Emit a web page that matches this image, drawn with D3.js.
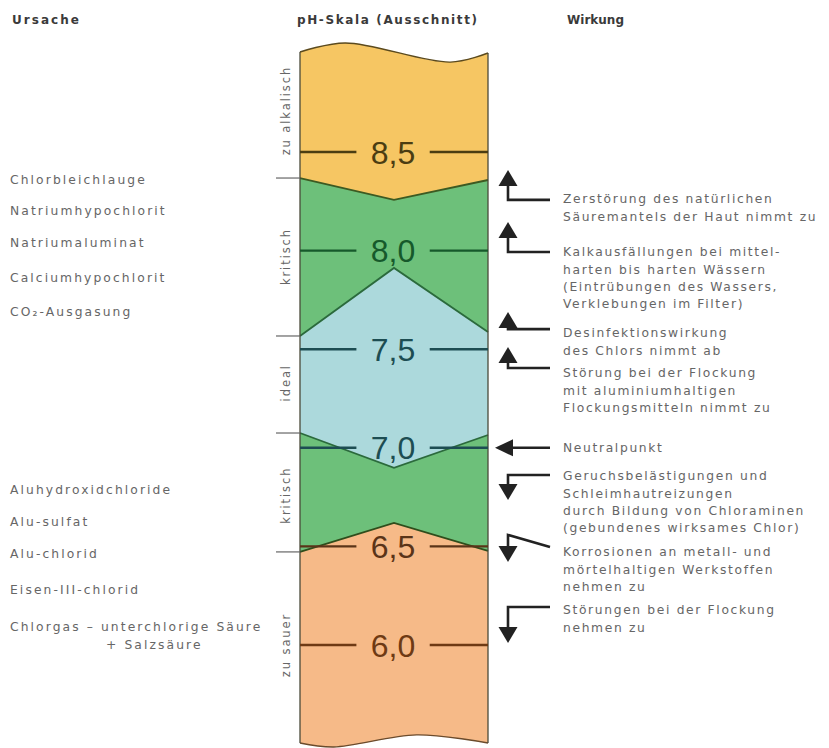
<!DOCTYPE html>
<html><head><meta charset="utf-8">
<script src="https://cdn.jsdelivr.net/npm/d3@7"></script>
<style>body{margin:0;background:#fff}</style>
</head><body>
<svg id="c" width="829" height="748"></svg>
<script>
// ---------- data ----------
const headers = ["Ursache", "pH-Skala (Ausschnitt)", "Wirkung"];
const phTicks = [8.5, 8.0, 7.5, 7.0, 6.5, 6.0];
const tickLabels = ["8,5", "8,0", "7,5", "7,0", "6,5", "6,0"];

const zoneNames = ["zu alkalisch", "kritisch", "ideal", "kritisch", "zu sauer"];
const zoneLabelPH = [8.71, 7.97, 7.33, 6.76, 6.0];

// boundaries as [fraction across column, pH]
const topEdge    = [[0, 9.007], [0.24, 9.053], [0.80, 8.956], [1, 9.002]];
const bound1     = [[0, 8.368], [0.5, 8.257], [1, 8.358]];
const bound2     = [[0, 7.567], [0.5, 7.912], [1, 7.587]];
const bound3     = [[0, 7.075], [0.5, 6.898], [1, 7.065]];
const bound4     = [[0, 6.472], [0.5, 6.619], [1, 6.477]];
const bottomEdge = [[0, 5.503], [0.18, 5.483], [0.62, 5.544], [1, 5.503]];

const causeLabels = ["Chlorbleichlauge", "Natriumhypochlorit", "Natriumaluminat", "Calciumhypochlorit", "CO₂-Ausgasung",
                     "Aluhydroxidchloride", "Alu-sulfat", "Alu-chlorid", "Eisen-III-chlorid", "Chlorgas  – unterchlorige Säure"];
const causePH = [8.36, 8.20, 8.04, 7.865, 7.69, 6.79, 6.625, 6.462, 6.279, 6.091];
const causeExtra = ["+ Salzsäure"];
const causeExtraPH = [6.0];

const effectDir   = ["up", "up", "up", "up", "left", "down", "down", "down"];
const effectTip   = [8.409, 8.145, 7.689, 7.511, 7.0, 6.735, 6.421, 6.010];
const effectElbow = [8.257, 7.993, 7.602, 7.405, 7.0, 6.862, 6.558, 6.193];
const effectEnd   = [8.257, 7.993, 7.602, 7.405, 7.0, 6.862, 6.497, 6.193];
const effectTextPH = [8.262, 7.993, 7.582, 7.379, 6.999, 6.857, 6.472, 6.178];
const effectLines = [
  ["Zerstörung des natürlichen", "Säuremantels der Haut nimmt zu"],
  ["Kalkausfällungen bei mittel-", "harten bis harten Wässern", "(Eintrübungen des Wassers,", "Verklebungen im Filter)"],
  ["Desinfektionswirkung", "des Chlors nimmt ab"],
  ["Störung bei der Flockung", "mit aluminiumhaltigen", "Flockungsmitteln nimmt zu"],
  ["Neutralpunkt"],
  ["Geruchsbelästigungen und", "Schleimhautreizungen", "durch Bildung von Chloraminen", "(gebundenes wirksames Chlor)"],
  ["Korrosionen an metall- und", "mörtelhaltigen Werkstoffen", "nehmen zu"],
  ["Störungen bei der Flockung", "nehmen zu"]
];

// ---------- styles ----------
const zoneFill = ["#f6c663", "#6dc07a", "#acd9dc", "#6dc07a", "#f6ba88"];
const boundStroke = ["#5b4a1e", "#3d5a22", "#2b6a3c", "#2b6a3c", "#2f4d1c", "#6b4b2c"];
const tickColor = ["#4b3d12", "#16592b", "#1d4d52", "#1d4d52", "#5a3418", "#6e3a14"];
const textGrey = "#666";
const FONT = "'DejaVu Sans', sans-serif";
const headerX = [12, 297, 567], headerLen = [67, 180, 57];

// ---------- scales ----------
const y = d3.scaleLinear().domain([6.0, 8.5]).range([645, 152]);
const x = d3.scaleLinear().domain([0, 1]).range([300, 488]);

const svg = d3.select("#c");

// headers
svg.selectAll("text.h").data(headers).join("text")
  .attr("x", (d, i) => headerX[i]).attr("y", 24)
  .attr("font-family", FONT).attr("font-weight", "bold").attr("font-size", 12)
  .attr("textLength", (d, i) => headerLen[i]).attr("lengthAdjust", "spacing")
  .attr("fill", "#3a3a3a").text(d => d);

// zones
const edges = [topEdge, bound1, bound2, bound3, bound4, bottomEdge];
const lineFor = (pts, i) => {
  const g = d3.line().x(d => x(d[0])).y(d => y(d[1]));
  if (i === 0 || i === 5) g.curve(d3.curveCatmullRom.alpha(0.5));
  return g(pts);
};
zoneFill.forEach((c, i) => {
  const up = lineFor(edges[i], i);
  const lo = lineFor(edges[i + 1].slice().reverse(), i + 1).replace(/^M/, "L");
  svg.append("path").attr("d", up + lo + "Z").attr("fill", c);
});
// boundaries
edges.forEach((e, i) => {
  svg.append("path").attr("d", lineFor(e, i)).attr("fill", "none")
    .attr("stroke", boundStroke[i]).attr("stroke-width", i === 0 || i === 5 ? 1.4 : 1.8);
});
// column sides
[0, 1].forEach(f => {
  svg.append("line").attr("x1", x(f)).attr("x2", x(f))
    .attr("y1", y(topEdge[f ? 3 : 0][1])).attr("y2", y(bottomEdge[f ? 3 : 0][1]))
    .attr("stroke", "#4a4a3a").attr("stroke-width", 1.3);
});
// little left marks at zone boundaries
[bound1, bound2, bound3, bound4].forEach(b => {
  svg.append("line").attr("x1", x(0) - 24).attr("x2", x(0))
    .attr("y1", y(b[0][1])).attr("y2", y(b[0][1]))
    .attr("stroke", "#666").attr("stroke-width", 1.2);
});

// pH ticks
phTicks.forEach((p, i) => {
  const g = svg.append("g");
  g.append("line").attr("x1", x(0)).attr("x2", x(0.3)).attr("y1", y(p)).attr("y2", y(p))
    .attr("stroke", tickColor[i]).attr("stroke-width", 2.4);
  g.append("line").attr("x1", x(0.69)).attr("x2", x(1)).attr("y1", y(p)).attr("y2", y(p))
    .attr("stroke", tickColor[i]).attr("stroke-width", 2.4);
  g.append("text").attr("x", x(0.495)).attr("y", y(p)).attr("dy", "0.36em")
    .attr("text-anchor", "middle").attr("font-family", "'Liberation Sans', Arial, sans-serif")
    .attr("font-size", 32).attr("fill", tickColor[i]).text(tickLabels[i]);
});

// zone side labels
zoneNames.forEach((n, i) => {
  svg.append("text").attr("transform", `translate(290,${y(zoneLabelPH[i])}) rotate(-90)`)
    .attr("text-anchor", "middle").attr("font-family", FONT).attr("font-size", 11.5)
    .attr("letter-spacing", 1.9).attr("fill", textGrey).text(n);
});

// causes
const causeText = (t, p, xx) => svg.append("text").attr("x", xx).attr("y", y(p)).attr("dy", "0.35em")
  .attr("font-family", FONT).attr("font-size", 12.3).attr("letter-spacing", 2.1)
  .attr("fill", textGrey).text(t);
causeLabels.forEach((t, i) => causeText(t, causePH[i], 10));
causeExtra.forEach((t, i) => causeText(t, causeExtraPH[i], 106));

// effects
const SX = 508, HX = 550;
effectDir.forEach((dir, i) => {
  const g = svg.append("g");
  const tY = y(effectTip[i]), eY = y(effectElbow[i]), nY = y(effectEnd[i]);
  if (dir === "left") {
    g.append("line").attr("x1", 510).attr("x2", HX).attr("y1", tY).attr("y2", tY)
      .attr("stroke", "#222").attr("stroke-width", 2.6);
    g.append("path").attr("d", `M495,${tY}L513,${tY - 8.5}L513,${tY + 8.5}Z`).attr("fill", "#222");
  } else {
    const s = dir === "up" ? 1 : -1;
    g.append("path").attr("d", `M${SX},${tY + s * 12}L${SX},${eY}L${HX},${nY}`)
      .attr("fill", "none").attr("stroke", "#222").attr("stroke-width", 2.6);
    g.append("path").attr("d", `M${SX},${tY}L${SX - 9.5},${tY + s * 16}L${SX + 9.5},${tY + s * 16}Z`).attr("fill", "#222");
  }
  effectLines[i].forEach((l, j) => {
    g.append("text").attr("x", 563).attr("y", y(effectTextPH[i]) + j * 17.3).attr("dy", "0.35em")
      .attr("font-family", FONT).attr("font-size", 12.3).attr("letter-spacing", 1.65)
      .attr("fill", textGrey).text(l);
  });
});
</script>
</body></html>
